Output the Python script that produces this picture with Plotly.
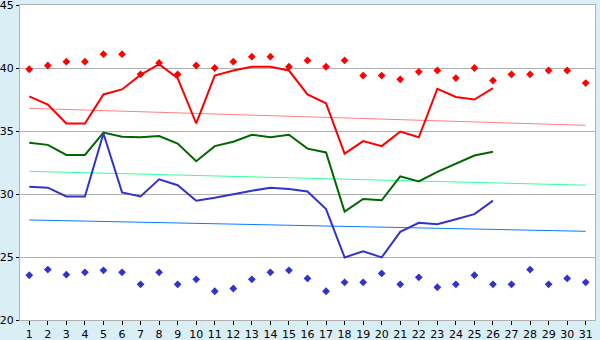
import plotly.graph_objects as go

days = list(range(1, 32))
days_line = list(range(1, 27))

red_points = [39.9, 40.2, 40.5, 40.5, 41.1, 41.1, 39.5, 40.4, 39.5, 40.2,
              40.0, 40.5, 40.9, 40.9, 40.1, 40.6, 40.1, 40.6, 39.4, 39.4,
              39.1, 39.7, 39.8, 39.2, 40.0, 39.0, 39.5, 39.5, 39.8, 39.8, 38.8]
red_line = [37.75, 37.1, 35.6, 35.6, 37.9, 38.3, 39.45, 40.3, 39.2, 35.6,
            39.4, 39.8, 40.1, 40.1, 39.8, 37.9, 37.2, 33.2, 34.2, 33.8,
            34.95, 34.5, 38.35, 37.7, 37.5, 38.4]
green_line = [34.07, 33.9, 33.1, 33.1, 34.87, 34.55, 34.5, 34.6, 34.0, 32.6,
              33.8, 34.15, 34.7, 34.5, 34.7, 33.6, 33.3, 28.6, 29.6, 29.5,
              31.4, 31.0, 31.75, 32.4, 33.05, 33.35]
blue_line = [30.58, 30.5, 29.8, 29.8, 34.8, 30.13, 29.8, 31.17, 30.7, 29.47,
             29.7, 30.0, 30.26, 30.5, 30.4, 30.2, 28.8, 24.97, 25.45, 24.97,
             27.0, 27.72, 27.6, 28.0, 28.4, 29.47]
blue_points = [23.55, 24.0, 23.6, 23.78, 23.94, 23.78, 22.83, 23.78, 22.83, 23.23,
               22.28, 22.5, 23.23, 23.78, 23.94, 23.3, 22.28, 22.99, 22.99, 23.7,
               22.83, 23.39, 22.6, 22.83, 23.55, 22.83, 22.83, 24.0, 22.83, 23.3, 22.99]
trend_days = [1, 31]
red_trend = [36.8, 35.45]
green_trend = [31.8, 30.7]
blue_trend = [27.94, 27.04]

fig = go.Figure()
fig.add_trace(go.Scatter(x=trend_days, y=red_trend, mode="lines",
                         line=dict(color="#ff8080", width=1)))
fig.add_trace(go.Scatter(x=trend_days, y=green_trend, mode="lines",
                         line=dict(color="#33ff99", width=1)))
fig.add_trace(go.Scatter(x=trend_days, y=blue_trend, mode="lines",
                         line=dict(color="#0a7cff", width=1)))
fig.add_trace(go.Scatter(x=days_line, y=red_line, mode="lines",
                         line=dict(color="#ff0000", width=2)))
fig.add_trace(go.Scatter(x=days_line, y=green_line, mode="lines",
                         line=dict(color="#006600", width=2)))
fig.add_trace(go.Scatter(x=days_line, y=blue_line, mode="lines",
                         line=dict(color="#3333cc", width=2)))
fig.add_trace(go.Scatter(x=days, y=red_points, mode="markers",
                         marker=dict(symbol="diamond", size=6, color="#ff0000")))
fig.add_trace(go.Scatter(x=days, y=blue_points, mode="markers",
                         marker=dict(symbol="diamond", size=6, color="#3333cc")))

fig.update_layout(
    width=600, height=340,
    margin=dict(l=20, r=5, t=5, b=20),
    paper_bgcolor="#daeef6",
    plot_bgcolor="#ffffff",
    showlegend=False,
    font=dict(family="DejaVu Sans", color="#000000"),
)
fig.update_xaxes(
    range=[0.5, 31.5], tickmode="array", tickvals=days,
    ticktext=[str(d) for d in days],
    showgrid=False, zeroline=False, automargin=False,
    showline=True, linecolor="#b0b0b0", linewidth=1, mirror=True,
    ticks="outside", ticklen=4, tickcolor="#000000", tickwidth=1,
    tickfont=dict(size=11), ticklabeloverflow="allow",
)
fig.update_yaxes(
    range=[20, 45], tickmode="array", tickvals=[20, 25, 30, 35, 40, 45],
    ticktext=["20", "25", "30", "35", "40", "45"],
    showgrid=True, gridcolor="#b0b0b0", gridwidth=1, zeroline=False,
    automargin=False,
    showline=True, linecolor="#b0b0b0", linewidth=1, mirror=True,
    ticks="outside", ticklen=3, tickcolor="#000000", tickwidth=1,
    tickfont=dict(size=11), ticklabeloverflow="allow",
)
fig.write_html("out.html")
